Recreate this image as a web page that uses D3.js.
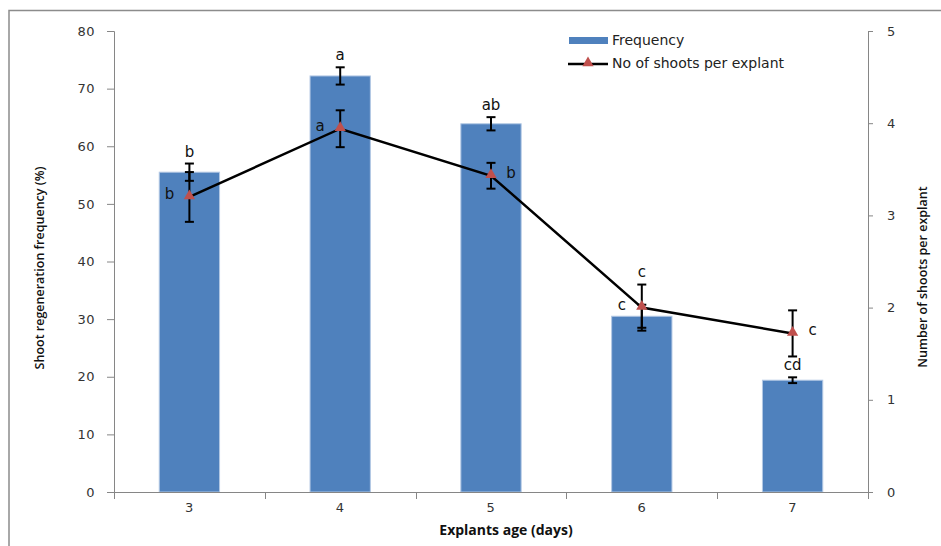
<!DOCTYPE html>
<html>
<head>
<meta charset="utf-8">
<script src="https://cdn.jsdelivr.net/npm/d3@7"></script>
<style>
  body { margin: 0; background: #fff; }
  svg { display: block; }
</style>
</head>
<body>
<svg id="chart" width="941" height="546"></svg>
<script>
// explant age in days
var days = [3, 4, 5, 6, 7];
// shoot regeneration frequency (%) and its error
var frequency = [55.5, 72.2, 63.9, 30.5, 19.4];
var frequencyErr = [1.5, 1.5, 1.15, 2.0, 0.5];
var frequencyLetters = ['b', 'a', 'ab', 'c', 'cd'];
// number of shoots per explant and its error
var shoots = [3.2, 3.94, 3.43, 2.0, 1.72];
var shootsErr = [0.27, 0.2, 0.14, 0.25, 0.25];
var shootsLetters = ['b', 'a', 'b', 'c', 'c'];
var shootsLetterSide = [-1, -1, 1, -1, 1];
var leftTicks = [0, 10, 20, 30, 40, 50, 60, 70, 80];
var rightTicks = [0, 1, 2, 3, 4, 5];

var svg = d3.select('#chart'),
    plotLeft = 114, plotRight = 868, plotTop = 31, plotBottom = 492,
    axisColor = '#868686',
    tickFont = '"DejaVu Sans", Verdana, sans-serif';

// outer frame (cropped on the right and bottom)
svg.append('rect')
    .attr('x', 9).attr('y', 10.5)
    .attr('width', 1000).attr('height', 1000)
    .attr('fill', 'none')
    .attr('stroke', '#8c8c8c')
    .attr('stroke-width', 1.5);

var x = d3.scaleBand().domain(days).range([plotLeft, plotRight])
    .paddingInner(0.6).paddingOuter(0.3);
var yL = d3.scaleLinear().domain([0, 80]).range([plotBottom, plotTop]);
var yR = d3.scaleLinear().domain([0, 5]).range([plotBottom, plotTop]);
var cx = function(d) { return x(d) + x.bandwidth() / 2; };

// bars
svg.append('g').selectAll('rect')
    .data(days)
    .enter().append('rect')
    .attr('x', function(d) { return x(d); })
    .attr('y', function(d, i) { return yL(frequency[i]); })
    .attr('width', x.bandwidth())
    .attr('height', function(d, i) { return plotBottom - yL(frequency[i]); })
    .attr('fill', '#4F81BD')
    .attr('stroke', '#b3c8e4')
    .attr('stroke-width', 1);

// left axis
var gL = svg.append('g')
    .attr('transform', 'translate(' + plotLeft + ',0)')
    .call(d3.axisLeft(yL).tickValues(leftTicks).tickSize(7).tickPadding(12));
// right axis
var gR = svg.append('g')
    .attr('transform', 'translate(' + plotRight + ',0)')
    .call(d3.axisRight(yR).tickValues(rightTicks).tickFormat(d3.format('d'))
        .tickSize(5).tickPadding(14));
// bottom axis: labels at band centres, ticks at band edges
var gB = svg.append('g')
    .attr('transform', 'translate(0,' + plotBottom + ')')
    .call(d3.axisBottom(x).tickSize(0).tickPadding(11));
gB.select('.domain').remove();
svg.append('line')
    .attr('x1', plotLeft - 7).attr('x2', plotRight)
    .attr('y1', plotBottom + 0.5).attr('y2', plotBottom + 0.5)
    .attr('stroke', axisColor);
var step = x.step();
svg.append('g').selectAll('line')
    .data([days[0]].concat(days))
    .enter().append('line')
    .attr('x1', function(d, i) { return Math.round(i === 0 ? plotLeft : x(d) + x.bandwidth() + step * 0.3) + 0.5; })
    .attr('x2', function(d, i) { return Math.round(i === 0 ? plotLeft : x(d) + x.bandwidth() + step * 0.3) + 0.5; })
    .attr('y1', plotBottom).attr('y2', plotBottom + 7)
    .attr('stroke', axisColor);

[gL, gR, gB].forEach(function(g) {
    g.selectAll('.domain, .tick line').attr('stroke', axisColor);
    g.selectAll('.tick text')
        .attr('fill', '#333')
        .style('font-family', tickFont)
        .style('font-size', '13px')
        .style('letter-spacing', '0.5px');
});

// axis titles
svg.append('text')
    .attr('transform', 'translate(44,268) rotate(-90)')
    .attr('text-anchor', 'middle')
    .style('font-family', '"Open Sans", sans-serif')
    .style('font-size', '12.5px')
    .style('font-weight', 600)
    .attr('fill', '#111')
    .text('Shoot regeneration frequency (%)');
svg.append('text')
    .attr('transform', 'translate(927,277) rotate(-90)')
    .attr('text-anchor', 'middle')
    .style('font-family', '"Open Sans", sans-serif')
    .style('font-size', '12.5px')
    .style('font-weight', 600)
    .attr('fill', '#111')
    .text('Number of shoots per explant');
svg.append('text')
    .attr('x', 506).attr('y', 535)
    .attr('text-anchor', 'middle')
    .style('font-family', '"Open Sans", sans-serif')
    .style('font-size', '14px')
    .style('font-weight', 700)
    .attr('fill', '#111')
    .text('Explants age (days)');

// error bars
function errorBars(scale, vals, errs) {
    var g = svg.append('g').attr('stroke', '#000').attr('stroke-width', 2);
    days.forEach(function(d, i) {
        var xc = cx(d), hi = scale(vals[i] + errs[i]), lo = scale(vals[i] - errs[i]);
        g.append('line').attr('x1', xc).attr('x2', xc).attr('y1', hi).attr('y2', lo);
        g.append('line').attr('x1', xc - 4.5).attr('x2', xc + 4.5).attr('y1', hi).attr('y2', hi);
        g.append('line').attr('x1', xc - 4.5).attr('x2', xc + 4.5).attr('y1', lo).attr('y2', lo);
    });
}
errorBars(yL, frequency, frequencyErr);

// shoots line
var line = d3.line()
    .x(function(d) { return cx(d); })
    .y(function(d, i) { return yR(shoots[i]); });
svg.append('path')
    .datum(days)
    .attr('d', line)
    .attr('fill', 'none')
    .attr('stroke', '#000')
    .attr('stroke-width', 2.5);

errorBars(yR, shoots, shootsErr);

var tri = d3.symbol().type(d3.symbolTriangle).size(55);
svg.append('g').selectAll('path')
    .data(days)
    .enter().append('path')
    .attr('d', tri)
    .attr('transform', function(d, i) { return 'translate(' + cx(d) + ',' + (yR(shoots[i]) - 1) + ')'; })
    .attr('fill', '#C0504D');

// significance letters
var letterStyle = function(t) {
    t.style('font-family', tickFont).style('font-size', '15px').attr('fill', '#111')
        .attr('text-anchor', 'middle').attr('dominant-baseline', 'central');
};
days.forEach(function(d, i) {
    var yf = yL(frequency[i] + frequencyErr[i]) - 12,
        sHi = yR(shoots[i] + shootsErr[i]), sLo = yR(shoots[i] - shootsErr[i]);
    if (yf > sHi - 8 && yf < sLo) yf = sHi - 13;
    svg.append('text').attr('x', cx(d)).attr('y', yf)
        .call(letterStyle).text(frequencyLetters[i]);
    svg.append('text')
        .attr('x', cx(d) + shootsLetterSide[i] * 20)
        .attr('y', yR(shoots[i]) - 3)
        .call(letterStyle).text(shootsLetters[i]);
});

// legend
var lg = svg.append('g');
lg.append('rect').attr('x', 569).attr('y', 37).attr('width', 39).attr('height', 7).attr('fill', '#4F81BD');
lg.append('line').attr('x1', 568).attr('x2', 608).attr('y1', 64).attr('y2', 64)
    .attr('stroke', '#000').attr('stroke-width', 2.5);
lg.append('path').attr('d', tri).attr('transform', 'translate(588,63)').attr('fill', '#C0504D');
lg.selectAll('text')
    .data(['Frequency', 'No of shoots per explant'])
    .enter().append('text')
    .attr('x', 612)
    .attr('y', function(d, i) { return 40 + i * 23; })
    .attr('dominant-baseline', 'central')
    .style('font-family', tickFont)
    .style('font-size', '14px')
    .attr('fill', '#222')
    .text(function(d) { return d; });
</script>
</body>
</html>
